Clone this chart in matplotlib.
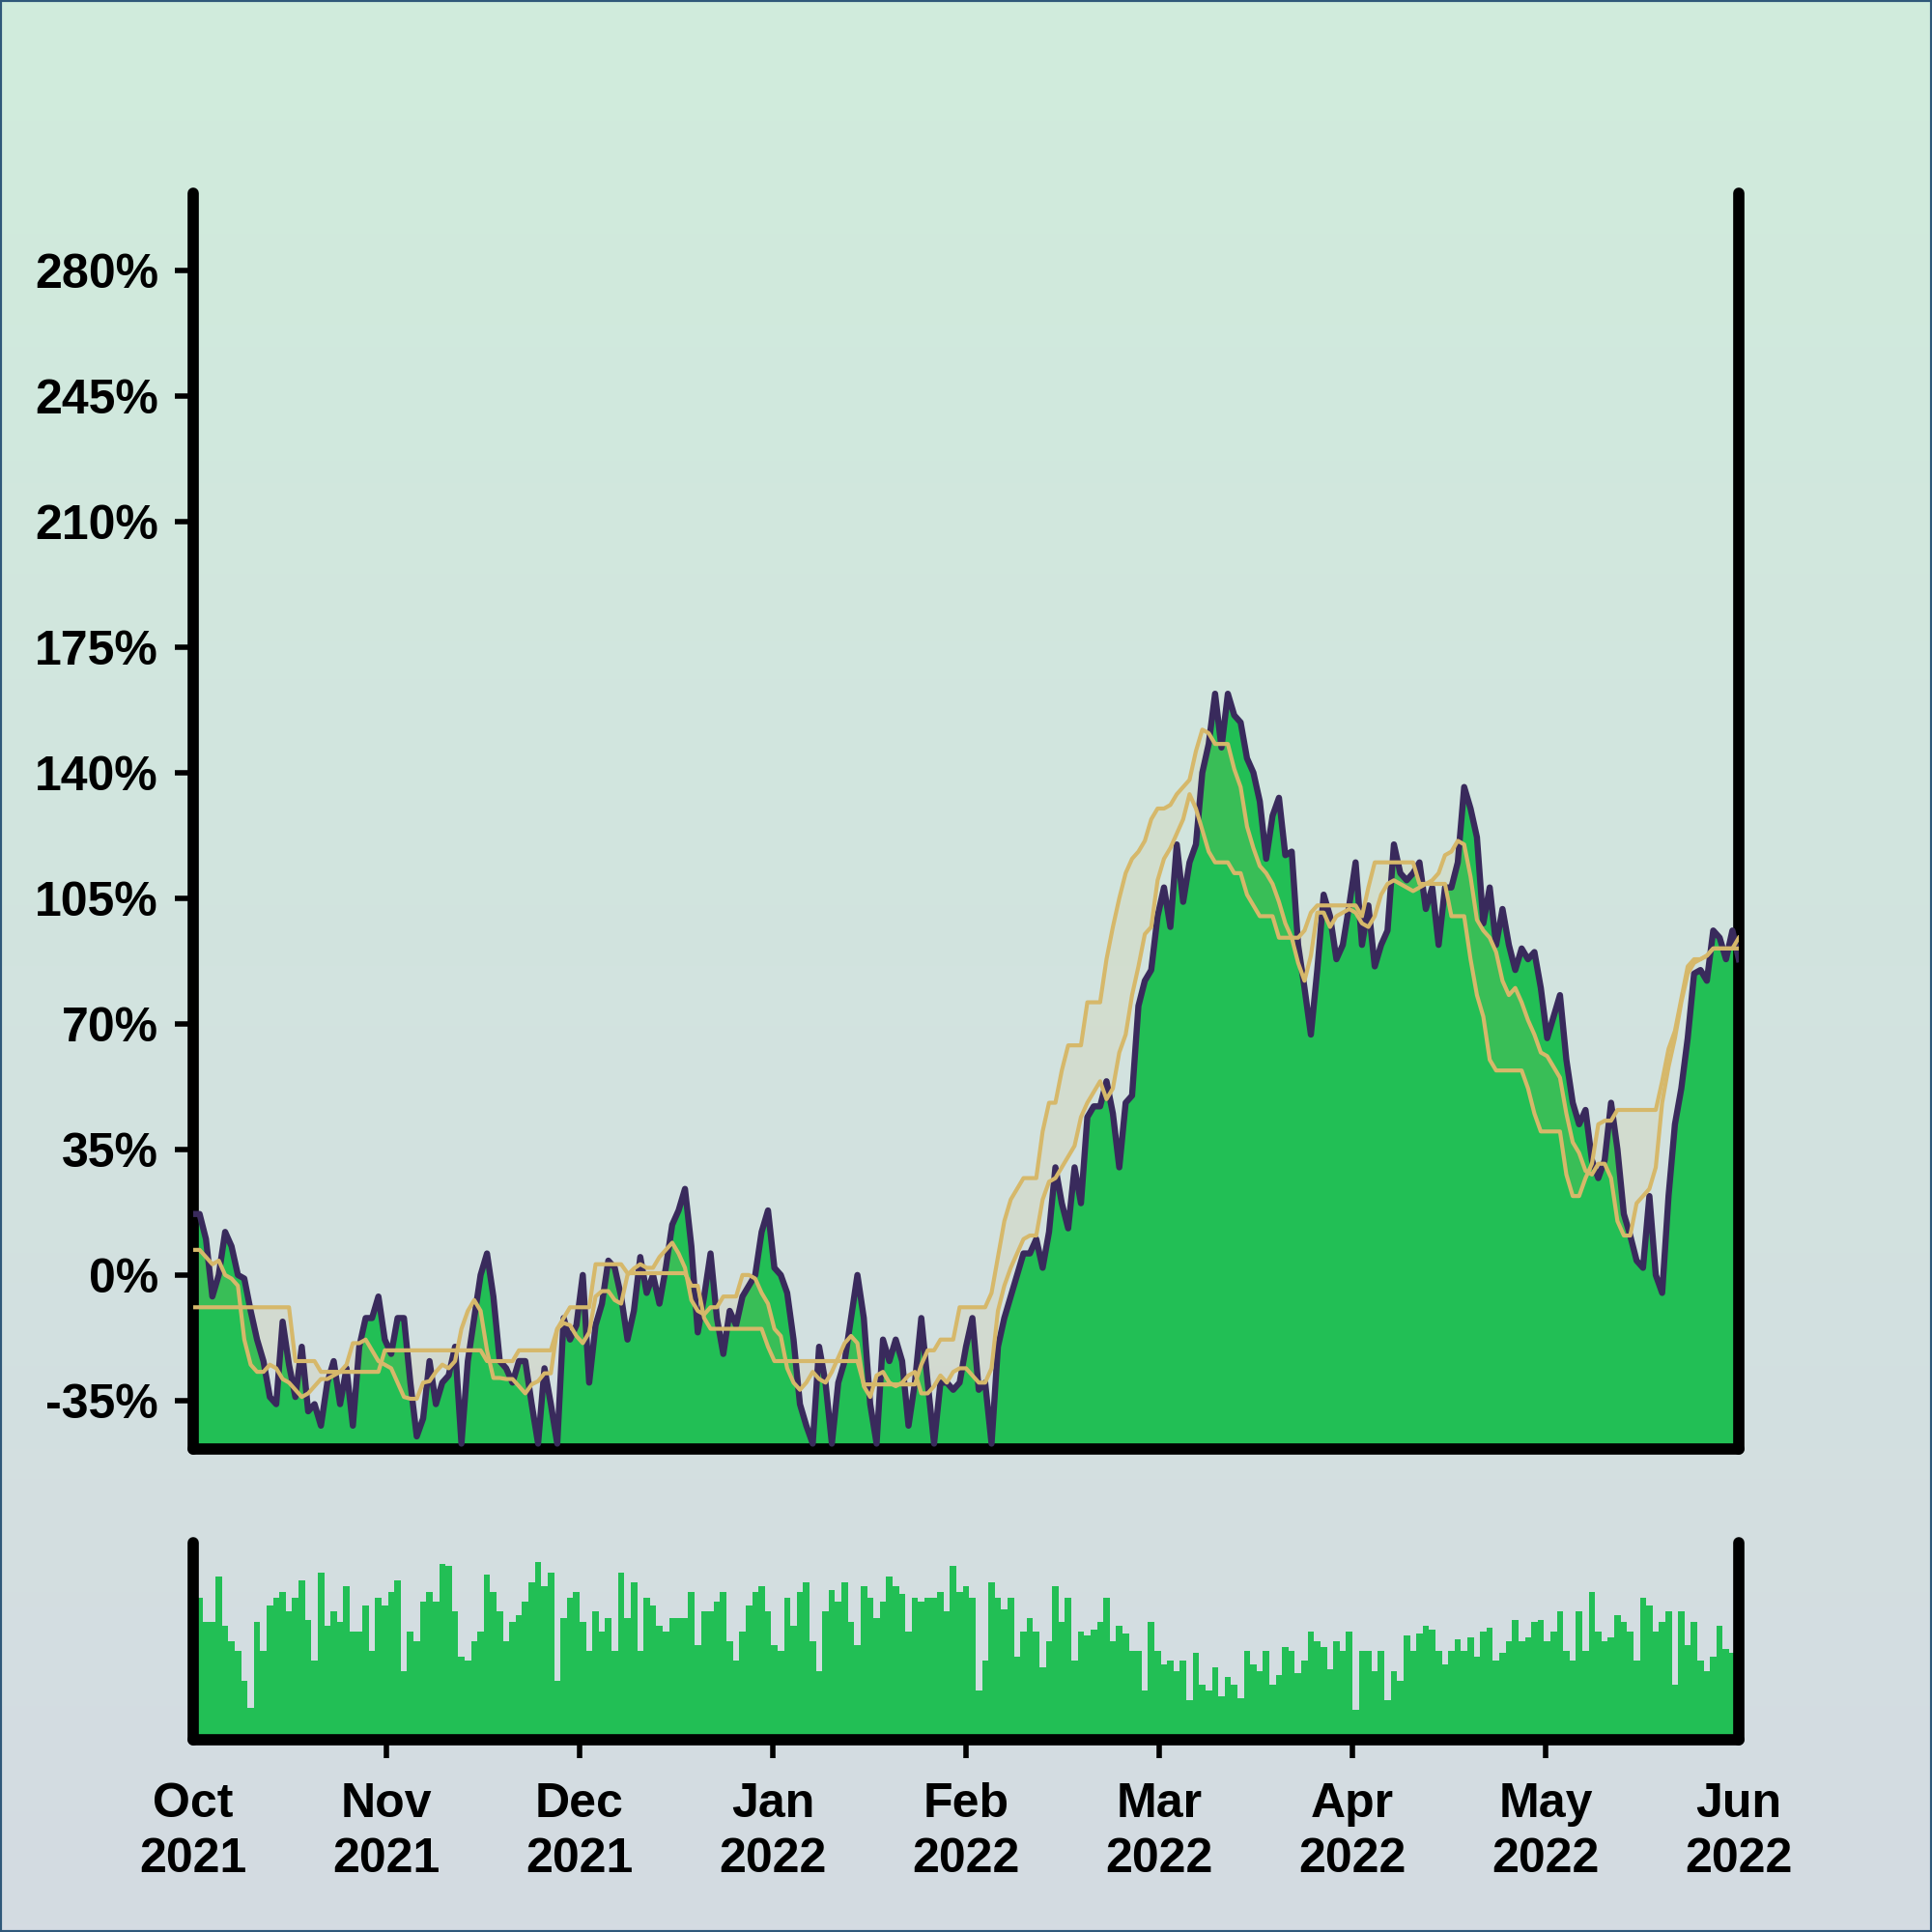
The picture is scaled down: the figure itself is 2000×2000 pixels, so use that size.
import numpy as np
import matplotlib
matplotlib.use('Agg')
import matplotlib.pyplot as plt

# daily values, Oct 2021 -> end of May 2022 (243 samples)
price = [17, 17, 10, -6, 0, 12, 8, 0, -1, -10, -18, -24, -34, -36, -13, -25, -34, -20, -38, -36,
         -42, -30, -24, -36, -26, -42, -20, -12, -12, -6, -18, -22, -12, -12, -30, -45, -40, -24, -36, -30,
         -28, -20, -47, -24, -12, 0, 6, -6, -24, -26, -30, -24, -24, -36, -47, -26, -36, -47, -12, -18,
         -14, 0, -30, -14, -8, 4, 2, -6, -18, -10, 5, -5, 0, -8, 2, 14, 18, 24, 8, -16,
         -6, 6, -12, -22, -10, -14, -6, -3, 0, 12, 18, 2, 0, -5, -18, -36, -42, -47, -20, -30,
         -47, -30, -24, -12, 0, -12, -36, -47, -18, -24, -18, -24, -42, -30, -12, -30, -47, -30, -30, -32,
         -30, -20, -12, -32, -30, -47, -20, -12, -6, 0, 6, 6, 10, 2, 12, 30, 20, 13, 30, 20,
         44, 47, 47, 54, 45, 30, 48, 50, 75, 82, 85, 100, 108, 97, 120, 104, 115, 120, 140, 148,
         162, 147, 162, 156, 154, 144, 140, 132, 116, 128, 133, 117, 118, 92, 80, 67, 85, 106, 100, 88,
         92, 103, 115, 92, 103, 86, 92, 96, 120, 112, 110, 112, 115, 102, 108, 92, 108, 108, 115, 136,
         130, 122, 98, 108, 92, 102, 92, 85, 91, 88, 90, 80, 66, 72, 78, 60, 48, 42, 46, 32,
         27, 32, 48, 35, 17, 11, 4, 2, 22, 0, -5, 22, 42, 52, 66, 84, 85, 82, 96, 94,
         88, 96, 88]

gold_a = [-9, -9, -9, -9, -9, -9, -9, -9, -9, -9, -9, -9, -9, -9, -9, -9, -24, -24, -24, -24,
          -27, -27, -27, -27, -27, -27, -27, -27, -27, -27, -21, -21, -21, -21, -21, -21, -21, -21, -21, -21,
          -21, -21, -21, -21, -21, -21, -24, -24, -24, -24, -24, -21, -21, -21, -21, -21, -21, -15, -12, -9,
          -9, -9, -9, 3, 3, 3, 3, 3, 0.5, 0.5, 0.5, 0.5, 0.5, 0.5, 0.5, 0.5, 0.5, 0.5, -3, -3,
          -12, -15, -15, -15, -15, -15, -15, -15, -15, -15, -20, -24, -24, -24, -24, -24, -24, -24, -24, -24,
          -24, -24, -24, -24, -24, -30.5, -30.5, -30.5, -30.5, -30.5, -30.5, -30.5, -30.5, -30.5, -25, -21, -21, -18, -18, -18,
          -9, -9, -9, -9, -9, -5, 5, 15, 21, 24, 27, 27, 27, 40, 48, 48, 57, 64, 64, 64,
          76, 76, 76, 88, 97, 105, 112, 116, 118, 121, 127, 130, 130, 131, 134, 136, 138, 146, 152, 151,
          148, 148, 148, 141, 136, 125, 119, 114, 112, 109, 104, 98, 94, 87, 82, 89, 101, 101, 97, 100,
          101, 102, 101, 98, 97, 100, 106, 109, 110, 109, 108, 107, 108, 109, 110, 112, 117, 118, 121, 120,
          111, 99, 96, 94, 90, 82, 78, 80, 76, 71, 67, 62, 61, 58, 55, 45, 37, 34, 29, 28,
          31, 31, 27, 15, 11, 11, 20, 22, 24, 30, 48, 58, 66, 76, 84, 87, 88, 89, 91, 91,
          91, 91, 94]

gold_b = [7, 7, 5, 3, 4, 0, -1, -3, -18, -25, -27, -27, -25, -26, -29, -30, -32, -34, -33, -31,
          -29, -29, -28, -27, -25, -19, -19, -18, -21, -24, -25, -26, -30, -34, -34.5, -34.5, -30, -29.6, -27, -25,
          -26, -24, -15, -10, -7, -10, -21, -28.7, -28.7, -29, -29, -31, -33, -30.5, -29.6, -27.4, -27.4, -15, -13.4, -14,
          -17, -19, -16, -6, -4.5, -4.5, -7, -8, 0, 1.8, 3, 2, 2, 5, 7, 9, 6, 2, -7, -10,
          -11, -9, -9, -6, -6, -6, 0, 0, -1, -5, -8, -15, -17, -26, -30, -32, -30, -27, -29, -30,
          -27, -23, -19, -17, -19, -31, -34, -28, -27, -30, -31, -30, -28, -27, -33, -33, -31, -28, -30, -27,
          -26, -26, -28, -30, -30, -26, -10, -3, 2, 6, 10, 11, 11, 21, 26, 27, 30, 33, 36, 44,
          48, 51, 54, 49, 52, 62, 67, 78, 86, 95, 97, 110, 116, 119, 123, 127, 134, 130, 124, 118,
          115, 115, 115, 112, 112, 106, 103, 100, 100, 100, 94, 94, 94, 94, 96, 101, 103, 103, 103, 103,
          103, 103, 103, 100, 108, 115, 115, 115, 115, 115, 115, 115, 109, 109, 109, 109, 109, 100, 100, 100,
          88, 78, 72, 60, 57, 57, 57, 57, 57, 52, 45, 40, 40, 40, 40, 28, 22, 22, 27, 31,
          42, 43, 43, 46, 46, 46, 46, 46, 46, 46, 54, 63, 68, 77, 86, 88, 88, 89, 91, 91,
          91, 91, 91]

volume = [75, 72, 60, 60, 83, 58, 50, 45, 30, 16, 60, 45, 68, 72, 75, 65, 72, 81, 61, 40,
          85, 58, 65, 60, 78, 55, 55, 68, 45, 72, 68, 75, 81, 35, 55, 50, 70, 75, 70, 89,
          88, 65, 42, 40, 50, 55, 84, 75, 65, 50, 60, 63, 70, 80, 90, 78, 85, 30, 62, 72,
          75, 60, 45, 65, 55, 62, 45, 85, 62, 80, 45, 72, 68, 58, 55, 62, 62, 62, 75, 48,
          65, 65, 70, 75, 50, 40, 55, 68, 75, 78, 65, 48, 45, 72, 58, 75, 80, 50, 35, 65,
          76, 70, 80, 60, 48, 78, 72, 62, 70, 83, 78, 74, 55, 72, 70, 72, 72, 75, 65, 88,
          75, 78, 72, 25, 40, 80, 72, 66, 72, 42, 55, 62, 55, 37, 50, 78, 60, 72, 40, 55,
          53, 56, 60, 72, 50, 58, 54, 45, 45, 25, 60, 45, 38, 40, 35, 40, 20, 44, 28, 25,
          37, 22, 32, 28, 21, 45, 38, 35, 45, 28, 33, 47, 45, 34, 40, 55, 50, 47, 36, 50,
          45, 55, 15, 45, 45, 35, 45, 20, 35, 30, 53, 45, 54, 58, 56, 45, 38, 45, 51, 45,
          52, 42, 55, 57, 40, 44, 50, 61, 50, 52, 60, 61, 50, 55, 65, 45, 40, 65, 45, 75,
          55, 50, 52, 63, 60, 55, 40, 72, 68, 55, 60, 65, 28, 65, 48, 60, 40, 35, 42, 58,
          46, 44, 44]

months = ['Oct\n2021', 'Nov\n2021', 'Dec\n2021', 'Jan\n2022', 'Feb\n2022',
          'Mar\n2022', 'Apr\n2022', 'May\n2022', 'Jun\n2022']
y_ticks = [-35, 0, 35, 70, 105, 140, 175, 210, 245, 280]

plt.rcParams['font.family'] = ['Liberation Sans', 'DejaVu Sans']
plt.rcParams['font.weight'] = 'bold'

GREEN = '#22bf55'
PURPLE = '#392a5c'
GOLD = '#d6b86a'
x = np.arange(len(price))
y_low, y_high = -48.5, 301.5

fig = plt.figure(figsize=(10, 10), dpi=200)

# gradient background + thin frame round the figure
bg = fig.add_axes([0, 0, 1, 1], zorder=-10)
grad = np.linspace(0, 1, 256).reshape(-1, 1)
top_c = np.array([208, 236, 220]) / 255
bot_c = np.array([212, 219, 226]) / 255
img = top_c[None, None, :] * (1 - grad[:, :, None]) + bot_c[None, None, :] * grad[:, :, None]
bg.imshow(img, aspect='auto', extent=[0, 1, 0, 1])
bg.set_xticks([])
bg.set_yticks([])
for s in bg.spines.values():
    s.set_color('#2f587a')
    s.set_linewidth(1.5)

ax = fig.add_axes([0.1, 0.25, 0.8, 0.65])
axv = fig.add_axes([0.1, 0.0995, 0.8, 0.102])

for a in (ax, axv):
    a.set_facecolor('none')
    a.spines['top'].set_visible(False)
    for s in ('left', 'right', 'bottom'):
        a.spines[s].set_linewidth(4.2)
        a.spines[s].set_color('black')
        a.spines[s].set_capstyle('round')
    a.set_xlim(0, len(price) - 1)

ax.fill_between(x, price, y_low, color=GREEN, linewidth=0, zorder=1)
ax.fill_between(x, gold_a, gold_b, color=GOLD, alpha=0.13, linewidth=0, zorder=2)
ax.plot(x, price, color=PURPLE, linewidth=2.3, zorder=3)
ax.plot(x, gold_a, color=GOLD, linewidth=1.5, zorder=4)
ax.plot(x, gold_b, color=GOLD, linewidth=1.5, zorder=4)
ax.set_ylim(y_low, y_high)
ax.set_yticks(y_ticks)
ax.set_yticklabels([f'{v}%' for v in y_ticks])
ax.tick_params(axis='y', length=7, width=2, pad=6, labelsize=18)
ax.tick_params(axis='x', bottom=False, labelbottom=False)

axv.bar(x, volume, width=1.0, color=GREEN, linewidth=0)
axv.set_ylim(0, 100)
axv.set_yticks([])
tick_pos = np.linspace(0, len(price) - 1, len(months))
axv.set_xticks(tick_pos)
axv.set_xticklabels(months, linespacing=1.3)
axv.tick_params(axis='x', length=7, width=2, pad=9, labelsize=18)
# no tick marks under the two rounded corners
xt = axv.xaxis.get_major_ticks()
xt[0].tick1line.set_visible(False)
xt[-1].tick1line.set_visible(False)

fig.savefig('out.png', dpi=200)
